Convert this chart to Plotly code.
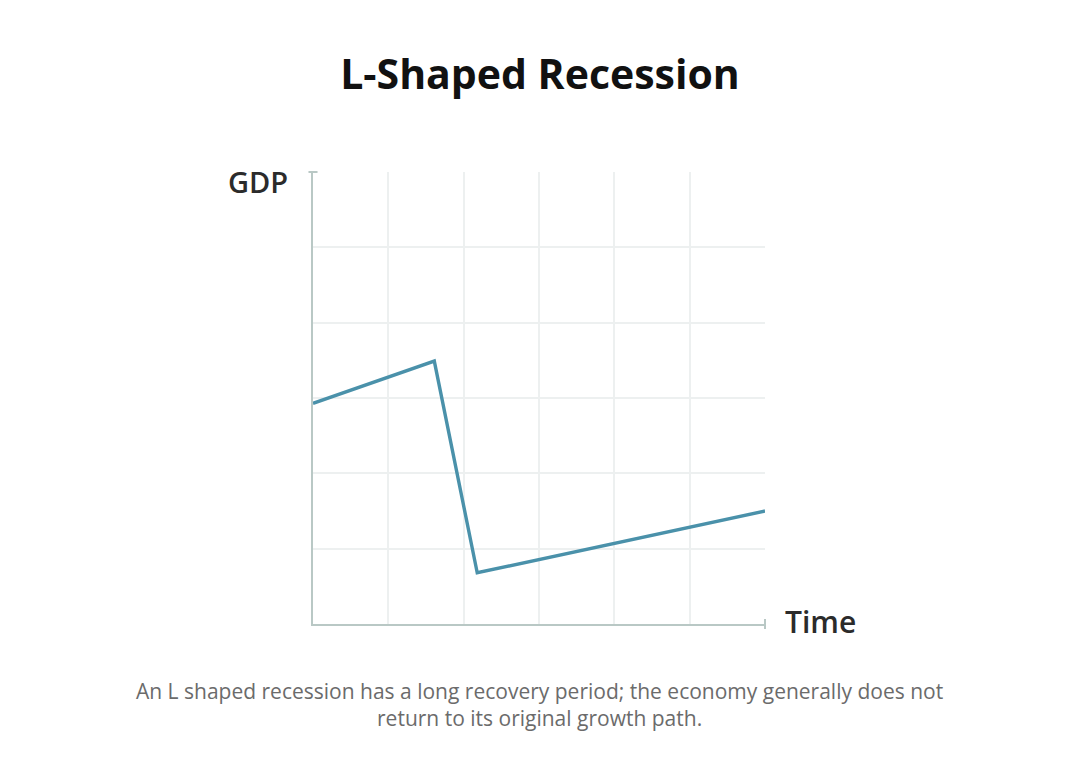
import plotly.graph_objects as go

# GDP path over time (axis units 0-6 on both axes)
time = [0, 1.61, 2.18, 6]
gdp = [2.93, 3.49, 0.68, 1.5]

title_text = "L-Shaped Recession"
caption = ("An L shaped recession has a long recovery period; the economy generally does not<br>"
           "return to its original growth path.")

axis_col = "#b9c8c5"
grid_col = "#edf0f0"

fig = go.Figure()
fig.add_trace(go.Scatter(x=time, y=gdp, mode="lines",
                         line=dict(color="#4a91aa", width=3.4),
                         hoverinfo="skip", showlegend=False))

fig.update_layout(
    width=1080, height=780,
    margin=dict(l=305, r=323, t=164, b=164),
    paper_bgcolor="white", plot_bgcolor="white",
    font=dict(family="Open Sans, sans-serif"),
    title=dict(text="<b>" + title_text + "</b>", x=0.4926, xanchor="center",
               y=0.914, yanchor="middle",
               font=dict(size=41, color="#111111", family="Open Sans, sans-serif")),
    xaxis=dict(range=[0, 6], dtick=1, showticklabels=False, ticks="",
               showgrid=True, gridcolor=grid_col, gridwidth=1.5,
               showline=True, linecolor=axis_col, linewidth=2,
               zeroline=False, fixedrange=True),
    yaxis=dict(range=[0, 6], dtick=1, showticklabels=False, ticks="",
               showgrid=True, gridcolor=grid_col, gridwidth=1.5,
               showline=True, linecolor=axis_col, linewidth=2,
               zeroline=False, fixedrange=True),
    shapes=[
        dict(type="line", xref="paper", yref="paper", x0=-0.01, x1=0.01, y0=1, y1=1,
             line=dict(color=axis_col, width=2)),
        dict(type="line", xref="paper", yref="paper", x0=1, x1=1, y0=-0.011, y1=0.011,
             line=dict(color=axis_col, width=2)),
    ],
    annotations=[
        dict(text="GDP", xref="paper", yref="paper", x=-0.05, y=0.98,
             xanchor="right", yanchor="middle", showarrow=False,
             font=dict(size=29, color="#2b2b2b", weight=600)),
        dict(text="Time", xref="paper", yref="paper", x=1.04, y=0.005,
             xanchor="left", yanchor="middle", showarrow=False,
             font=dict(size=30, color="#2b2b2b", weight=600)),
        dict(text=caption, xref="paper", yref="paper", x=0.5, y=-0.178,
             xanchor="center", yanchor="middle", showarrow=False,
             font=dict(size=21, color="#6b6b6b"), align="center"),
    ],
)

fig.write_html("out.html")
